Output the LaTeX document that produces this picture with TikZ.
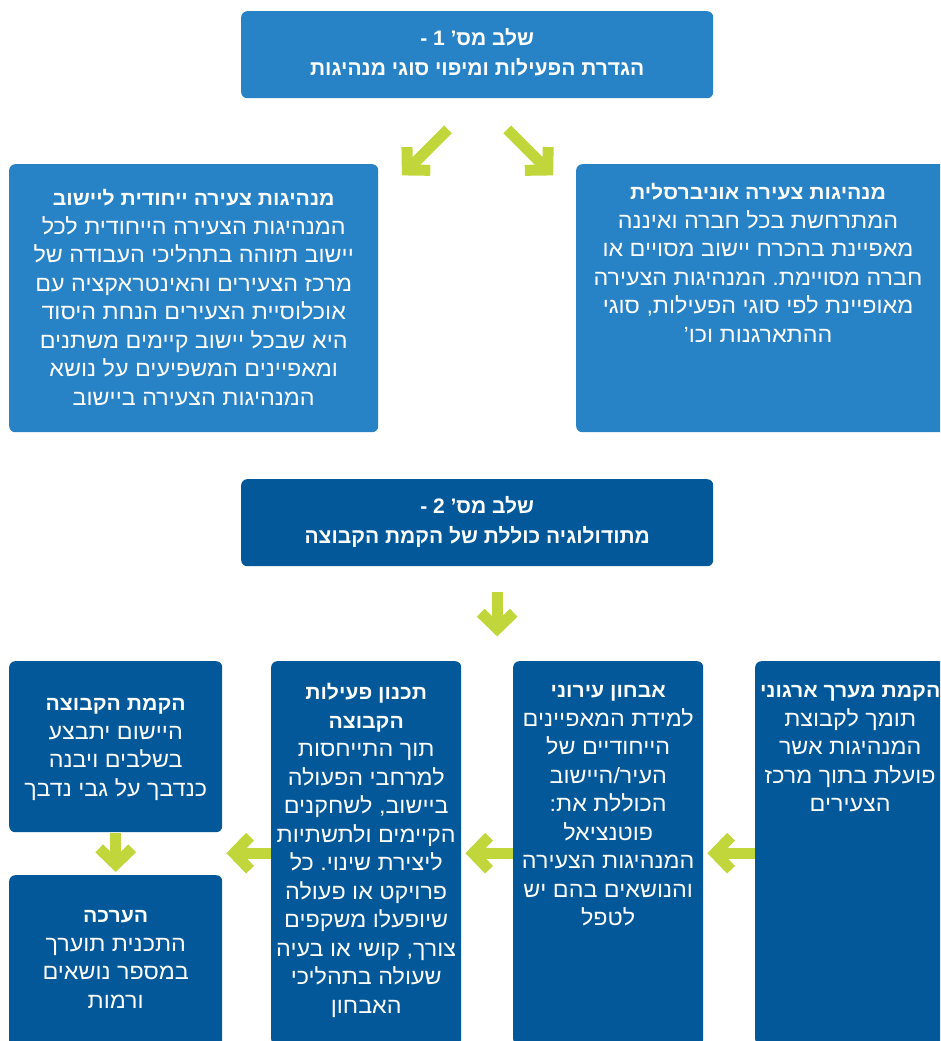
\documentclass[tikz,border=0pt]{standalone}
\usepackage{fontspec}
\setmainfont{Liberation Sans}
\newfontfamily\hebfont[Script=Hebrew, FakeStretch=1.06]{Liberation Sans}
\newfontfamily\hebstepfont[Script=Hebrew]{Liberation Sans}
\TeXXeTstate=1
\frenchspacing
\usetikzlibrary{arrows.meta,calc}

\definecolor{stepblue}{RGB}{40,130,198}
\definecolor{deepblue}{RGB}{2,88,152}
\definecolor{lime}{RGB}{192,214,58}

% one right-to-left line with a fixed-height strut
\newcommand\heb[1]{\strut\beginR #1\endR}
% bold heading inside a box
\newcommand\hd[1]{{\bfseries\fontsize{20}{28.5}\selectfont #1}}

\tikzset{
  box/.style={rectangle, rounded corners=6pt, inner sep=0pt, anchor=north west},
  lightbox/.style={box, fill=stepblue},
  darkbox/.style={box, fill=deepblue},
  txt/.style={text=white, align=center, inner sep=0pt, anchor=north,
    font=\hebfont\fontsize{22}{28.5}\selectfont},
  steptxt/.style={txt, font=\hebstepfont\bfseries\fontsize{21}{30}\selectfont},
  garrow/.style={draw=lime, line width=11pt,
    -{Straight Barb[length=16pt, width=33pt]}}
}

\begin{document}
\begin{tikzpicture}[x=1pt, y=-1pt]
\clip (0,0) rectangle (940,1041);

% ---- stage 1 ----
\node[lightbox, minimum width=472pt, minimum height=87pt] (s1) at (241,11) {};
\node[steptxt] (s1t) at ([yshift=-13pt]s1.north)
  {\heb{שלב מס’ 1 -}\\\heb{הגדרת הפעילות ומיפוי סוגי מנהיגות}};

\node[lightbox, minimum width=369pt, minimum height=268pt] (uniq) at (9,164) {};
\node[txt] (uniqt) at ([yshift=-21.5pt]uniq.north)
  {\heb{\hd{מנהיגות צעירה ייחודית ליישוב}}\\
   \heb{המנהיגות הצעירה הייחודית לכל}\\
   \heb{יישוב תזוהה בתהליכי העבודה של}\\
   \heb{מרכז הצעירים והאינטראקציה עם}\\
   \heb{אוכלוסיית הצעירים הנחת היסוד}\\
   \heb{היא שבכל יישוב קיימים משתנים}\\
   \heb{ומאפיינים המשפיעים על נושא}\\
   \heb{המנהיגות הצעירה ביישוב}};

\node[lightbox, minimum width=380pt, minimum height=268pt] (univ) at (576,164) {};
\node[txt] (univt) at ([xshift=182pt, yshift=-15.5pt]univ.north west)
  {\heb{\hd{מנהיגות צעירה אוניברסלית}}\\
   \heb{המתרחשת בכל חברה ואיננה}\\
   \heb{מאפיינת בהכרח יישוב מסויים או}\\
   \heb{חברה מסויימת. המנהיגות הצעירה}\\
   \heb{מאופיינת לפי סוגי הפעילות, סוגי}\\
   \heb{ההתארגנות וכו’}};

% ---- stage 2 ----
\node[darkbox, minimum width=472pt, minimum height=87pt] (s2) at (241,479) {};
\node[steptxt] (s2t) at ([yshift=-13pt]s2.north)
  {\heb{שלב מס’ 2 -}\\\heb{מתודולוגיה כוללת של הקמת הקבוצה}};

\node[darkbox, minimum width=190pt, minimum height=384pt] (org) at (755,661) {};
\node[txt] (orgt) at ([yshift=-16.5pt]org.north)
  {\heb{\hd{הקמת מערך ארגוני}}\\
   \heb{תומך לקבוצת}\\
   \heb{המנהיגות אשר}\\
   \heb{פועלת בתוך מרכז}\\
   \heb{הצעירים}};

\node[darkbox, minimum width=190pt, minimum height=384pt] (diag) at (513,661) {};
\node[txt] (diagt) at ([yshift=-16.5pt]diag.north)
  {\heb{\hd{אבחון עירוני}}\\
   \heb{למידת המאפיינים}\\
   \heb{הייחודיים של}\\
   \heb{העיר/היישוב}\\
   \heb{הכוללת את:}\\
   \heb{פוטנציאל}\\
   \heb{המנהיגות הצעירה}\\
   \heb{והנושאים בהם יש}\\
   \heb{לטפל}};

\node[darkbox, minimum width=190pt, minimum height=384pt] (plan) at (271,661) {};
\node[txt] (plant) at ([yshift=-18.5pt]plan.north)
  {\heb{\hd{תכנון פעילות}}\\
   \heb{\hd{הקבוצה}}\\
   \heb{תוך התייחסות}\\
   \heb{למרחבי הפעולה}\\
   \heb{ביישוב, לשחקנים}\\
   \heb{הקיימים ולתשתיות}\\
   \heb{ליצירת שינוי. כל}\\
   \heb{פרויקט או פעולה}\\
   \heb{שיופעלו משקפים}\\
   \heb{צורך, קושי או בעיה}\\
   \heb{שעולה בתהליכי}\\
   \heb{האבחון}};

\node[darkbox, minimum width=213pt, minimum height=171pt] (grp) at (9,661) {};
\node[txt] (grpt) at ([yshift=-29.5pt]grp.north)
  {\heb{\hd{הקמת הקבוצה}}\\
   \heb{היישום יתבצע}\\
   \heb{בשלבים ויבנה}\\
   \heb{כנדבך על גבי נדבך}};

\node[darkbox, minimum width=213pt, minimum height=180pt] (evalb) at (9,875) {};
\node[txt] (evalt) at ([yshift=-27.5pt]evalb.north)
  {\heb{\hd{הערכה}}\\
   \heb{התכנית תוערך}\\
   \heb{במספר נושאים}\\
   \heb{ורמות}};

% ---- connectors ----
\draw[garrow] ([xshift=-29.3pt, yshift=-31pt]s1.south) -- ([xshift=-75.3pt, yshift=-77pt]s1.south);
\draw[garrow] ([xshift=30pt, yshift=-31pt]s1.south) -- ([xshift=76pt, yshift=-77pt]s1.south);
\draw[garrow] ([xshift=20pt, yshift=-26pt]s2.south) -- ([xshift=20pt, yshift=-70pt]s2.south);
\draw[garrow] (org.west) -- ([xshift=4pt]diag.east);
\draw[garrow] (diag.west) -- ([xshift=4pt]plan.east);
\draw[garrow] (plan.west) -- ([xshift=4pt]grp.east |- plan.west);
\draw[garrow] ([yshift=-1pt]grp.south) -- ([yshift=3pt]evalb.north);
\end{tikzpicture}
\end{document}
